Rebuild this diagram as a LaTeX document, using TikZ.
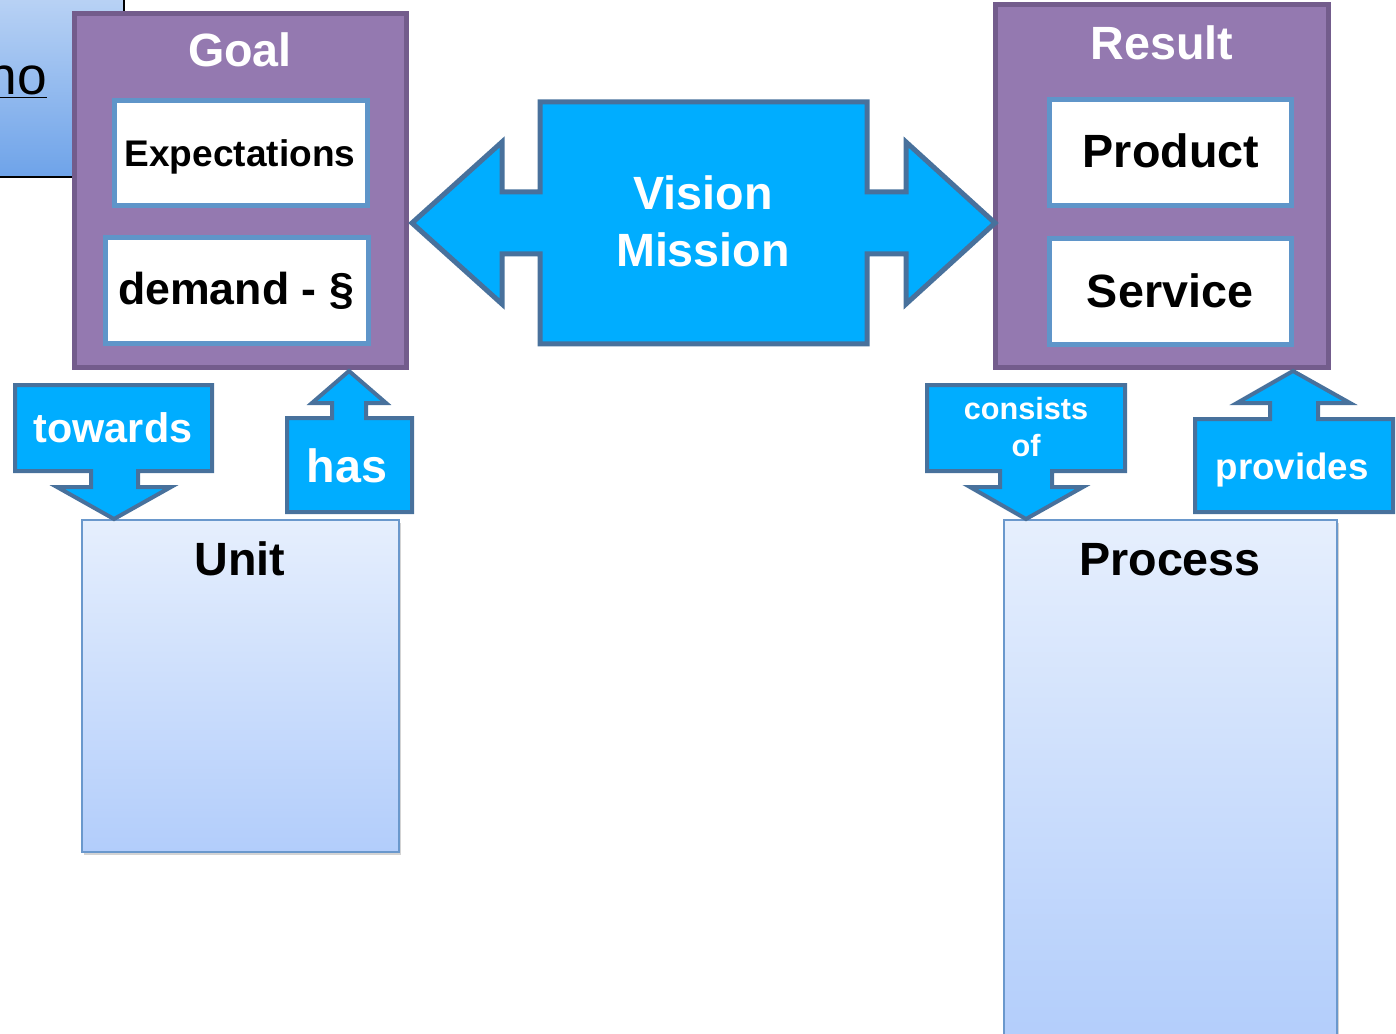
\documentclass[tikz,border=0pt]{standalone}
\usepackage{fontspec}
\setmainfont{Liberation Sans}
\usetikzlibrary{shadows}

\definecolor{goalpurple}{HTML}{9479B0}
\definecolor{goaledge}{HTML}{735C8C}
\definecolor{inneredge}{HTML}{5F95C9}
\definecolor{arrowblue}{HTML}{00ADFF}
\definecolor{arrowedge}{HTML}{48719C}
\definecolor{unittop}{HTML}{E6EFFD}
\definecolor{unitbot}{HTML}{B2CDFB}
\definecolor{unitedge}{HTML}{6A98CC}
\definecolor{notop}{HTML}{BCD4F5}
\definecolor{nobot}{HTML}{6EA3E9}

\newcommand{\szbig}{\fontsize{35}{41}\selectfont}
\newcommand{\szmid}{\fontsize{31}{36}\selectfont}
\newcommand{\szsmall}{\fontsize{27.8}{32}\selectfont}
\newcommand{\sztiny}{\fontsize{23}{27}\selectfont}

\tikzset{
  outerbox/.style={fill=goalpurple, draw=goaledge, line width=3.75pt},
  innerbox/.style={fill=white, draw=inneredge, line width=3.75pt},
  blockarrow/.style={fill=arrowblue, draw=arrowedge, line width=3pt, line join=miter},
  unitbox/.style={top color=unittop, bottom color=unitbot, draw=unitedge, line width=1.5pt,
    drop shadow={shadow xshift=1.5pt, shadow yshift=-2.5pt, opacity=0.35}},
  lbl/.style={inner sep=0pt, anchor=base, font=\bfseries},
}

\begin{document}
\begin{tikzpicture}[x=0.75pt, y=-0.75pt]
\useasboundingbox (0,0) rectangle (1396,1034);

% box cut off at the top left
\draw[top color=notop, bottom color=nobot, draw=black, line width=1.2pt] (-10,-10) rectangle (124,177);
\node[inner sep=0pt, anchor=base east, font=\fontsize{40}{46}\selectfont] (no) at (47,95) {\underline{no}};

% goal
\draw[outerbox] (74,14) rectangle (406,367);
\draw[innerbox] (114,101) rectangle (367,206);
\draw[innerbox] (105,238) rectangle (368,344);
\node[lbl, text=white] (goal) at (240,67) {\szbig Goal};
\node[lbl] (expect) at (240,167) {\szsmall Expectations};
\node[lbl] (demand) at (236,305) {\fontsize{33.5}{39}\selectfont demand - §};

% result
\draw[outerbox] (995,5) rectangle (1328,367);
\draw[innerbox] (1049,100) rectangle (1291,206);
\draw[innerbox] (1049,239) rectangle (1291,345);
\node[lbl, text=white] (result) at (1162,60) {\szbig Result};
\node[lbl] (product) at (1171,168) {\szbig Product};
\node[lbl] (service) at (1170,308) {\szbig Service};

% vision / mission
\draw[blockarrow, line width=3.75pt] (412,223) -- (502,142) -- (502,192) -- (540,192) -- (540,102)
  -- (867,102) -- (867,192) -- (906,192) -- (906,142) -- (995,223) -- (906,304) -- (906,254)
  -- (867,254) -- (867,344) -- (540,344) -- (540,254) -- (502,254) -- (502,304) -- cycle;
\node[lbl, text=white] (vision) at (703,210) {\szbig Vision};
\node[lbl, text=white] (mission) at (703,267) {\szbig Mission};

% units and processes
\draw[unitbox] (82,520) rectangle (399,852);
\node[lbl] (unit) at (240,575) {\szbig Unit};
\draw[unitbox] (1004,520) rectangle (1337,1045);
\node[lbl] (process) at (1170,575) {\szbig Process};

% towards
\draw[blockarrow] (15,385) -- (212,385) -- (212,471) -- (138,471) -- (138,487) -- (171,487)
  -- (114,519) -- (57,487) -- (91,487) -- (91,471) -- (15,471) -- cycle;
\node[lbl, text=white] (towards) at (113,442) {\szmid towards};

% has
\draw[blockarrow] (287,418) -- (332,418) -- (332,403) -- (312,403) -- (349,371) -- (386,403)
  -- (366,403) -- (366,418) -- (412,418) -- (412,512) -- (287,512) -- cycle;
\node[lbl, text=white] (has) at (347,482) {\szbig has};

% consists of
\draw[blockarrow] (927,385) -- (1125,385) -- (1125,471) -- (1052,471) -- (1052,487) -- (1083,487)
  -- (1026,519) -- (970,487) -- (1000,487) -- (1000,471) -- (927,471) -- cycle;
\node[lbl, text=white] (consists) at (1026,419) {\sztiny consists};
\node[lbl, text=white] (of) at (1026,456) {\sztiny of};

% provides
\draw[blockarrow] (1195,419) -- (1270,419) -- (1270,403) -- (1237,403) -- (1293,371) -- (1350,403)
  -- (1318,403) -- (1318,419) -- (1393,419) -- (1393,512) -- (1195,512) -- cycle;
\node[lbl, text=white] (provides) at (1292,479) {\fontsize{27.5}{32}\selectfont provides};
\end{tikzpicture}
\end{document}
